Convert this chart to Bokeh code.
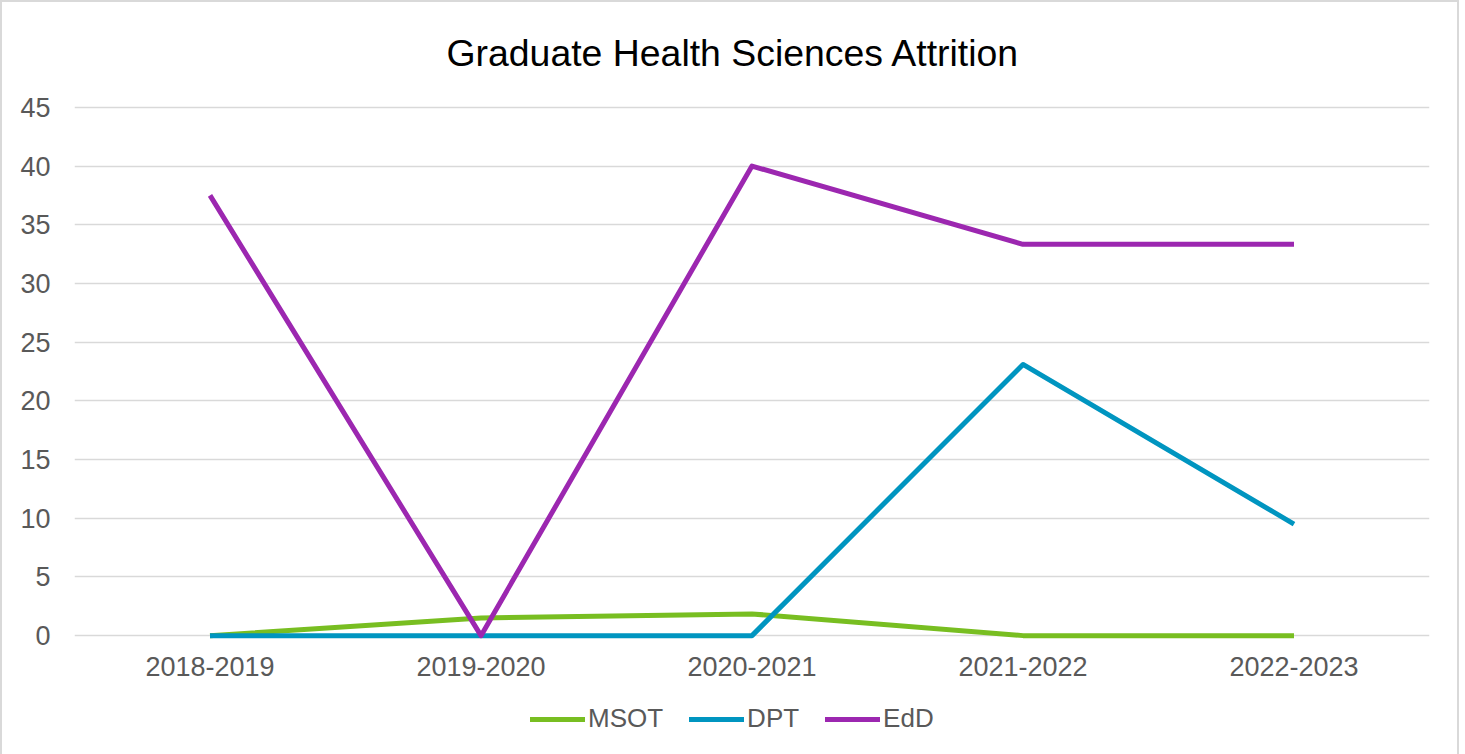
from bokeh.plotting import figure
from bokeh.layouts import column
from bokeh.models import Legend, LegendItem, FixedTicker, Range1d
from bokeh.embed import file_html
from bokeh.resources import INLINE

years = ["2018-2019", "2019-2020", "2020-2021", "2021-2022", "2022-2023"]
msot = [0, 1.5, 1.85, 0, 0]
dpt = [0, 0, 0, 23.1, 9.5]
edd = [37.5, 0, 40.0, 33.33, 33.33]
series = ["MSOT", "DPT", "EdD"]
colors = ["#78be21", "#0095c0", "#9c27b0"]
y_ticks = [0, 5, 10, 15, 20, 25, 30, 35, 40, 45]

FONT = "Liberation Sans"
GREY = "#595959"
W = 1455

p = figure(x_range=years, y_range=Range1d(-0.5, 45.5), width=W, height=687,
           output_backend="svg", toolbar_location=None,
           min_border_left=72, min_border_right=28, min_border_top=98,
           min_border_bottom=48, title="Graduate Health Sciences Attrition")

p.title.align = "left"
p.title.text_font = FONT
p.title.text_font_size = "37.4px"
p.title.text_font_style = "normal"
p.title.text_color = "#000000"
p.title.standoff = 55
p.title.offset = 372

p.outline_line_color = None
p.xgrid.grid_line_color = None
p.ygrid.grid_line_color = "#d9d9d9"
p.ygrid.grid_line_width = 1.5
p.yaxis.ticker = FixedTicker(ticks=y_ticks)
for ax in (p.xaxis[0], p.yaxis[0]):
    ax.axis_line_color = None
    ax.major_tick_line_color = None
    ax.minor_tick_line_color = None
    ax.major_tick_out = 0
    ax.major_tick_in = 0
    ax.major_label_text_font = FONT
    ax.major_label_text_font_size = "27px"
    ax.major_label_text_color = GREY
p.yaxis.major_label_standoff = 24
p.xaxis.major_label_standoff = 15
p.x_range.range_padding = 0

for vals, c in zip([msot, dpt, edd], colors):
    p.line(years, vals, line_color=c, line_width=5, line_join="round")

# legend strip below the chart
lg = figure(x_range=years, y_range=Range1d(1000, 1001), width=W, height=65,
            output_backend="svg", toolbar_location=None,
            min_border_left=0, min_border_right=0, min_border_top=0, min_border_bottom=0,
            x_axis_type=None, y_axis_type=None)
lg.outline_line_color = None
lg.grid.visible = False
items = []
for name, vals, c in zip(series, [msot, dpt, edd], colors):
    r = lg.line(years, vals, line_color=c, line_width=5, line_cap="round")
    items.append(LegendItem(label=name, renderers=[r]))
legend = Legend(items=items, orientation="horizontal", location=(456, 20),
                glyph_width=55, label_standoff=3, spacing=26, padding=0, margin=0,
                border_line_color=None, background_fill_alpha=0,
                label_text_font=FONT, label_text_font_size="26px",
                label_text_color=GREY)
lg.add_layout(legend, "center")

layout = column(p, lg, spacing=0)
layout.styles = {"border-top": "2px solid #d9d9d9", "border-left": "2px solid #d9d9d9",
                 "border-right": "2px solid #d9d9d9"}

open("out.html", "w").write(file_html(layout, INLINE))
